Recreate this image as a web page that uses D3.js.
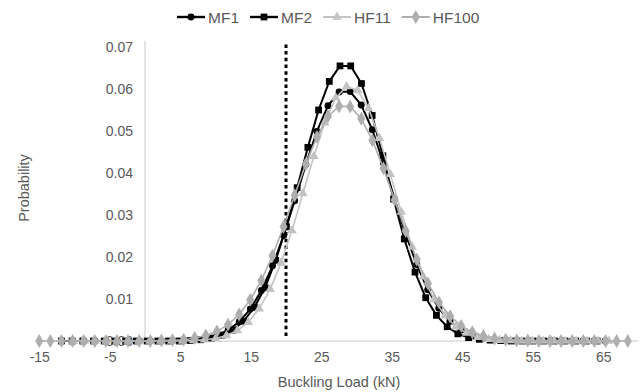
<!DOCTYPE html>
<html><head><meta charset="utf-8">
<script src="https://cdn.jsdelivr.net/npm/d3@7"></script>
<style>
html,body{margin:0;padding:0;background:#fff;}
svg{display:block;font-family:"Liberation Sans",Arial,sans-serif;}
</style></head>
<body><svg id="c" width="640" height="392"></svg>
<script>
const seriesNames = ["MF1","MF2","HF11","HF100"];
const xTicks = [-15,-5,5,15,25,35,45,55,65];
const yTicks = [0,0.01,0.02,0.03,0.04,0.05,0.06,0.07];
const thresholdLoad = 20;

const mf1X = [-11.8,-10.23,-8.65,-7.08,-5.51,-3.94,-2.36,-0.79,0.78,2.36,3.93,5.50,7.08,8.65,10.22,11.80,13.37,14.94,16.51,18.09,19.66,21.23,22.81,24.38,25.95,27.53,29.10,30.67,32.24,33.82,35.39,36.96,38.54,40.11,41.68,43.25,44.83,46.40,47.97,49.55,51.12,52.69,54.26,55.84,57.41,58.98,60.56,62.13,63.70,65.27];
const mf1Y = [0,0,0,0,0,0,0,0,0,0,0.0001,0.0001,0.0003,0.0007,0.0014,0.0026,0.0046,0.0076,0.0120,0.0179,0.0251,0.0334,0.0420,0.0499,0.0560,0.0593,0.0594,0.0562,0.0503,0.0424,0.0339,0.0255,0.0182,0.0122,0.0078,0.0047,0.0026,0.0014,0.0007,0.0003,0.0001,0.0001,0,0,0,0,0,0,0,0];

const mf2X = [-11.86,-10.34,-8.82,-7.30,-5.78,-4.26,-2.74,-1.22,0.30,1.82,3.34,4.86,6.38,7.90,9.42,10.94,12.46,13.98,15.50,17.02,18.54,20.06,21.58,23.10,24.62,26.14,27.66,29.18,30.70,32.22,33.74,35.26,36.78,38.30,39.82,41.34,42.86,44.38,45.90,47.42,48.94,50.46,51.98,53.50,55.02,56.54,58.06,59.58,61.10,62.62,64.14];
const mf2Y = [0,0,0,0,0,0,0,0,0,0,0,0,0.0001,0.0003,0.0007,0.0014,0.0026,0.0047,0.0080,0.0127,0.0192,0.0272,0.0365,0.0461,0.0550,0.0618,0.0655,0.0655,0.0613,0.0537,0.0441,0.0338,0.0243,0.0164,0.0103,0.0061,0.0034,0.0017,0.0008,0.0004,0.0002,0.0001,0,0,0,0,0,0,0,0,0];

const hf11X = [-10.15,-8.6,-7.05,-5.5,-3.95,-2.4,-0.85,0.7,2.25,3.8,5.35,6.9,8.45,10.0,11.55,13.1,14.65,16.2,17.75,19.3,20.85,22.4,23.95,25.5,27.05,28.6,30.15,31.7,33.25,34.8,36.35,37.9,39.45,41.0,42.55,44.1,45.65,47.2,48.75,50.3,51.85,53.4,54.95,56.5,58.05,59.6,61.15,62.7,64.25,65.8];
const hf11Y = [0,0,0,0,0,0,0,0,0,0,0,0.0001,0.0003,0.0006,0.0013,0.0025,0.0045,0.0077,0.0123,0.0186,0.0263,0.0351,0.0440,0.0520,0.0579,0.0606,0.0597,0.0554,0.0483,0.0397,0.0307,0.0224,0.0153,0.0099,0.0060,0.0034,0.0019,0.0009,0.0004,0.0002,0.0001,0,0,0,0,0,0,0,0,0];

const hf100X = [-15,-13.43,-11.85,-10.28,-8.7,-7.13,-5.55,-3.98,-2.4,-0.83,0.75,2.33,3.9,5.48,7.05,8.63,10.2,11.78,13.35,14.93,16.5,18.08,19.65,21.23,22.8,24.38,25.95,27.53,29.1,30.68,32.25,33.83,35.4,36.98,38.55,40.13,41.7,43.28,44.85,46.43,48.0,49.58,51.15,52.73,54.3,55.88,57.45,59.03,60.6,62.18,63.75,65.33,66.9,68.48];
const hf100Y = [0,0,0,0,0,0,0,0,0,0,0,0.0001,0.0002,0.0003,0.0007,0.0013,0.0023,0.0039,0.0063,0.0098,0.0144,0.0203,0.0272,0.0347,0.0421,0.0486,0.0535,0.0559,0.0558,0.0529,0.0478,0.0411,0.0336,0.0262,0.0194,0.0137,0.0092,0.0059,0.0036,0.0021,0.0012,0.0006,0.0003,0.0001,0.0001,0,0,0,0,0,0,0,0,0];

const seriesX = [mf1X, mf2X, hf11X, hf100X];
const seriesY = [mf1Y, mf2Y, hf11Y, hf100Y];
const colors = ["#000000","#000000","#c3c3c3","#aeaeae"];
const shapes = [d3.symbolCircle, d3.symbolSquare, d3.symbolTriangle, d3.symbolDiamond];
const sizes = [38, 46, 40, 56];
const lineW = [2, 2, 1.6, 1.6];

const svg = d3.select("#c");
const x = d3.scaleLinear().domain([-15,70]).range([39.25,638.5]);
const y = d3.scaleLinear().domain([0,0.07]).range([341,47]);
const txt = "#595959";
const ff = "Liberation Sans, Arial, sans-serif";

// axis lines
svg.append("line").attr("x1",x(-15)).attr("x2",x(70)).attr("y1",y(0)).attr("y2",y(0))
  .attr("stroke","#c8c8c8").attr("stroke-width",1);
svg.append("line").attr("x1",x(0)).attr("x2",x(0)).attr("y1",y(0)).attr("y2",y(0.07)-6)
  .attr("stroke","#c8c8c8").attr("stroke-width",1);

// tick labels via axes
const yAxis = d3.axisLeft(y).tickValues(yTicks).tickFormat(d3.format(".2f")).tickSize(0).tickPadding(0);
const gy = svg.append("g").attr("transform",`translate(133,0)`).call(yAxis);
gy.select(".domain").remove();
gy.selectAll("text").attr("fill",txt).attr("font-size",14).attr("font-family",ff);

const xAxis = d3.axisBottom(x).tickValues(xTicks).tickFormat(d=>String(d)).tickSize(0).tickPadding(0);
const gx = svg.append("g").attr("transform",`translate(0,352)`).call(xAxis);
gx.select(".domain").remove();
gx.selectAll("text").attr("fill",txt).attr("font-size",14).attr("dy","0.71em").attr("font-family",ff);

// axis titles
svg.append("text").attr("x",339).attr("y",387).attr("text-anchor","middle")
  .attr("fill",txt).attr("font-size",14.5).text("Buckling Load (kN)");
svg.append("text").attr("transform",`translate(29,188) rotate(-90)`).attr("text-anchor","middle")
  .attr("fill",txt).attr("font-size",14.5).text("Probability");

// threshold dotted line
svg.append("line").attr("x1",x(thresholdLoad)).attr("x2",x(thresholdLoad))
  .attr("y1",y(0)-5).attr("y2",y(0.07)-4)
  .attr("stroke","#000").attr("stroke-width",3).attr("stroke-dasharray","3.5,3.2");

// series
seriesNames.forEach((name,i)=>{
  const pts = seriesX[i].map((v,j)=>[v, seriesY[i][j]]);
  const g = svg.append("g");
  g.append("path").datum(pts)
    .attr("d", d3.line().x(d=>x(d[0])).y(d=>y(d[1])))
    .attr("fill","none").attr("stroke",colors[i]).attr("stroke-width",lineW[i]).attr("stroke-linejoin","round");
  g.selectAll("path.m").data(pts).enter().append("path").attr("class","m")
    .attr("transform",d=>`translate(${x(d[0])},${y(d[1])})`)
    .attr("d", d3.symbol().type(shapes[i]).size(sizes[i]))
    .attr("fill",colors[i]);
});

// legend
let lx = 177;
const ly = 17;
seriesNames.forEach((name,i)=>{
  const g = svg.append("g");
  g.append("line").attr("x1",lx).attr("x2",lx+28).attr("y1",ly).attr("y2",ly)
    .attr("stroke",colors[i]).attr("stroke-width",lineW[i]+0.4);
  g.append("path").attr("transform",`translate(${lx+14},${ly})`)
    .attr("d", d3.symbol().type(shapes[i]).size(sizes[i])).attr("fill",colors[i]);
  const t = g.append("text").attr("x",lx+31).attr("y",ly+5.5).attr("fill",txt).attr("font-size",15.5).text(name);
  lx = lx + 31 + t.node().getComputedTextLength() + 11;
});
</script></body></html>
